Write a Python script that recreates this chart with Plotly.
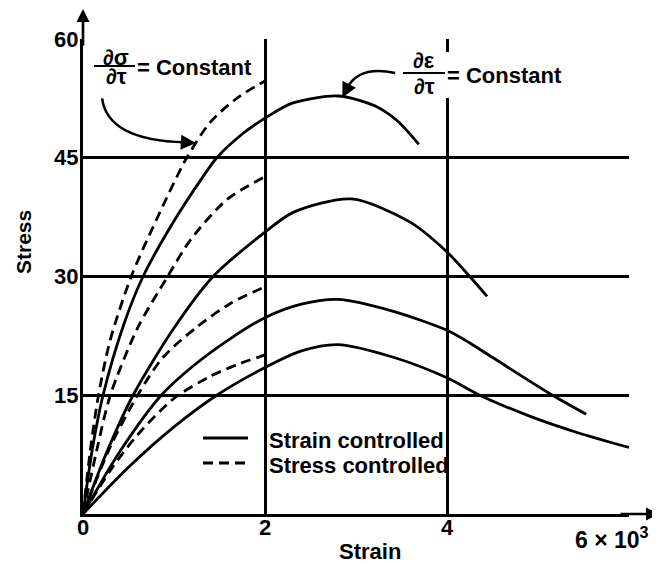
import plotly.graph_objects as go

# ---------------- data (strain in 10^3 units, stress) ----------------
x_tick_vals = [0, 2, 4, 6]
x_tick_text = ["0", "2", "4", ""]
y_tick_vals = [15, 30, 45, 60]
y_tick_text = ["15", "30", "45", "60"]

strain_ctrl_1_x = [0, 0.1, 0.22, 0.45, 0.66, 1.0, 1.3, 1.47, 1.75, 2.0, 2.3, 2.8, 3.2, 3.45, 3.69]
strain_ctrl_1_y = [0, 8, 15, 24, 30, 37, 42.3, 45, 48, 50, 51.9, 52.8, 51.6, 49.7, 46.7]

strain_ctrl_2_x = [0, 0.25, 0.55, 1.0, 1.43, 2.0, 2.31, 2.95, 3.59, 4.0, 4.25, 4.44]
strain_ctrl_2_y = [0, 7.5, 15, 23.5, 30, 35.6, 38.1, 39.8, 36.9, 33.1, 30, 27.5]

strain_ctrl_3_x = [0, 0.4, 0.86, 1.2, 1.6, 2.0, 2.4, 2.8, 3.41, 4.0, 4.25, 4.51, 5.16, 5.53]
strain_ctrl_3_y = [0, 7.8, 15, 18.6, 22.0, 24.8, 26.5, 27.1, 25.6, 23.2, 21.6, 19.7, 15, 12.6]

strain_ctrl_4_x = [0, 0.5, 1.0, 1.47, 2.0, 2.4, 2.8, 3.41, 4.0, 4.36, 4.9, 5.43, 6.0]
strain_ctrl_4_y = [0, 5.9, 11.0, 15, 18.5, 20.6, 21.4, 19.8, 17.2, 15, 12.4, 10.3, 8.4]

stress_ctrl_1_x = [0, 0.08, 0.17, 0.3, 0.53, 0.8, 1.14, 1.4, 1.7, 2.0]
stress_ctrl_1_y = [0, 8, 15, 22, 30, 37, 45, 49.5, 52.6, 54.7]

stress_ctrl_2_x = [0, 0.15, 0.3, 0.6, 0.93, 1.18, 1.58, 2.0]
stress_ctrl_2_y = [0, 8, 15, 23.5, 30, 34.6, 39.7, 42.6]

stress_ctrl_3_x = [0, 0.3, 0.6, 0.88, 1.25, 1.62, 2.0]
stress_ctrl_3_y = [0, 8.5, 15, 19.8, 23.6, 26.6, 28.7]

stress_ctrl_4_x = [0, 0.3, 0.6, 1.0, 1.4, 1.7, 2.0]
stress_ctrl_4_y = [0, 5.5, 10.0, 14.6, 17.4, 18.9, 20.1]

legend_labels = ["Strain controlled", "Stress controlled"]
x_title = "Strain"
y_title = "Stress"
x_end_label = "6 × 10<sup>3</sup>"

# ---------------- layout helpers (screen pixel positions) ----------------
OFF = 8                      # default body margin of the page
SW, SH = 660, 564            # browser window
W, H = SW - OFF, SH - OFF    # figure size
L, R, T, B = 83, 629, 39, 514  # plot area in screen pixels


def px(xp):
    return (xp - L) / (R - L)


def py(yp):
    return (B - yp) / (B - T)


FONT = "Liberation Sans, Arial, Helvetica, sans-serif"
BOLD = dict(family=FONT, size=22, color="black", weight="bold")
LW = 2.8

fig = go.Figure()

solid = [(strain_ctrl_1_x, strain_ctrl_1_y), (strain_ctrl_2_x, strain_ctrl_2_y),
         (strain_ctrl_3_x, strain_ctrl_3_y), (strain_ctrl_4_x, strain_ctrl_4_y)]
dashed = [(stress_ctrl_1_x, stress_ctrl_1_y), (stress_ctrl_2_x, stress_ctrl_2_y),
          (stress_ctrl_3_x, stress_ctrl_3_y), (stress_ctrl_4_x, stress_ctrl_4_y)]

for xs, ys in solid:
    fig.add_trace(go.Scatter(x=xs, y=ys, mode="lines", showlegend=False,
                             line=dict(color="black", width=LW, shape="spline", smoothing=0.8)))
for xs, ys in dashed:
    fig.add_trace(go.Scatter(x=xs, y=ys, mode="lines", showlegend=False,
                             line=dict(color="black", width=LW, shape="spline", smoothing=0.8,
                                       dash="10px,6px")))

shapes = []
annotations = []

# white box hiding the x=4 gridline behind the right label
shapes.append(dict(type="rect", xref="paper", yref="paper",
                   x0=px(439), x1=px(455), y0=py(98), y1=py(52),
                   fillcolor="white", line=dict(width=0), layer="above"))

# curved arrows
shapes.append(dict(type="path", xref="x", yref="y",
                   path="M 0.21,52.5 Q 0.27,47.2 1.12,46.95",
                   line=dict(color="black", width=2.5)))
annotations.append(dict(x=1.24, y=46.85, xref="x", yref="y", ax=1.05, ay=46.98,
                        axref="x", ayref="y", showarrow=True, arrowhead=2,
                        arrowsize=1.2, arrowwidth=2.5, arrowcolor="black", text=""))
shapes.append(dict(type="path", xref="x", yref="y",
                   path="M 3.43,55.7 Q 3.04,56.7 2.9,53.8",
                   line=dict(color="black", width=2.5)))
annotations.append(dict(x=2.85, y=52.6, xref="x", yref="y", ax=2.93, ay=54.4,
                        axref="x", ayref="y", showarrow=True, arrowhead=2,
                        arrowsize=1.2, arrowwidth=2.5, arrowcolor="black", text=""))


# fraction labels
def fraction(num, cx, y_num, y_bar, y_den, bx0, bx1, rest_x, rest_y):
    annotations.append(dict(x=px(cx), y=py(y_num), xref="paper", yref="paper",
                            text=num, showarrow=False, font=BOLD,
                            xanchor="center", yanchor="middle"))
    annotations.append(dict(x=px(cx), y=py(y_den), xref="paper", yref="paper",
                            text="∂τ", showarrow=False, font=BOLD,
                            xanchor="center", yanchor="middle"))
    shapes.append(dict(type="line", xref="paper", yref="paper",
                       x0=px(bx0), x1=px(bx1), y0=py(y_bar), y1=py(y_bar),
                       line=dict(color="black", width=2)))
    annotations.append(dict(x=px(rest_x), y=py(rest_y), xref="paper", yref="paper",
                            text="= Constant", showarrow=False, font=BOLD,
                            xanchor="left", yanchor="middle"))


fraction("∂σ", 116, 57, 66, 77, 94, 135, 135, 67)
fraction("∂ε", 424, 60, 73, 86, 403, 445, 445, 75)

# axis arrows
annotations.append(dict(x=0, y=py(7), xref="paper", yref="paper", ax=0, ay=40,
                        showarrow=True, arrowhead=2, arrowsize=1, arrowwidth=2.6,
                        arrowcolor="black", text=""))
annotations.append(dict(x=px(659), y=0, xref="paper", yref="paper", ax=-40, ay=0,
                        showarrow=True, arrowhead=2, arrowsize=1, arrowwidth=2.6,
                        arrowcolor="black", text=""))

# axis titles and last tick label
annotations.append(dict(x=px(370), y=py(551), xref="paper", yref="paper", text=x_title,
                        showarrow=False, font=BOLD, xanchor="center", yanchor="middle"))
annotations.append(dict(x=px(23), y=py(242), xref="paper", yref="paper", text=y_title,
                        showarrow=False, font=dict(BOLD, size=21), textangle=-90,
                        xanchor="center", yanchor="middle"))
annotations.append(dict(x=px(612), y=py(538), xref="paper", yref="paper", text=x_end_label,
                        showarrow=False, font=dict(BOLD, size=23), xanchor="center",
                        yanchor="middle"))

# manual legend
shapes.append(dict(type="line", xref="paper", yref="paper", x0=px(203), x1=px(248),
                   y0=py(438), y1=py(438), line=dict(color="black", width=LW)))
shapes.append(dict(type="line", xref="paper", yref="paper", x0=px(203), x1=px(246),
                   y0=py(463), y1=py(463), line=dict(color="black", width=LW, dash="10px,6px")))
annotations.append(dict(x=px(267), y=py(440), xref="paper", yref="paper", text=legend_labels[0],
                        showarrow=False, font=BOLD, xanchor="left", yanchor="middle"))
annotations.append(dict(x=px(267), y=py(465), xref="paper", yref="paper", text=legend_labels[1],
                        showarrow=False, font=BOLD, xanchor="left", yanchor="middle"))

fig.update_layout(
    width=W, height=H,
    margin=dict(l=L - OFF, r=SW - R, t=T - OFF, b=SH - B),
    paper_bgcolor="white", plot_bgcolor="white",
    font=BOLD,
    shapes=shapes, annotations=annotations,
    showlegend=False,
)
fig.update_xaxes(range=[0, 6], tickvals=x_tick_vals, ticktext=x_tick_text,
                 showgrid=True, gridcolor="black", gridwidth=2.8,
                 showline=True, linecolor="black", linewidth=3, ticks="",
                 ticklabelstandoff=-8,
                 zeroline=False, tickfont=BOLD, fixedrange=True)
fig.update_yaxes(range=[0, 60], tickvals=y_tick_vals, ticktext=y_tick_text,
                 showgrid=True, gridcolor="black", gridwidth=2.8,
                 showline=True, linecolor="black", linewidth=3, ticks="",
                 ticklabelstandoff=-3,
                 zeroline=False, tickfont=BOLD, fixedrange=True)

fig.write_html("out.html")
